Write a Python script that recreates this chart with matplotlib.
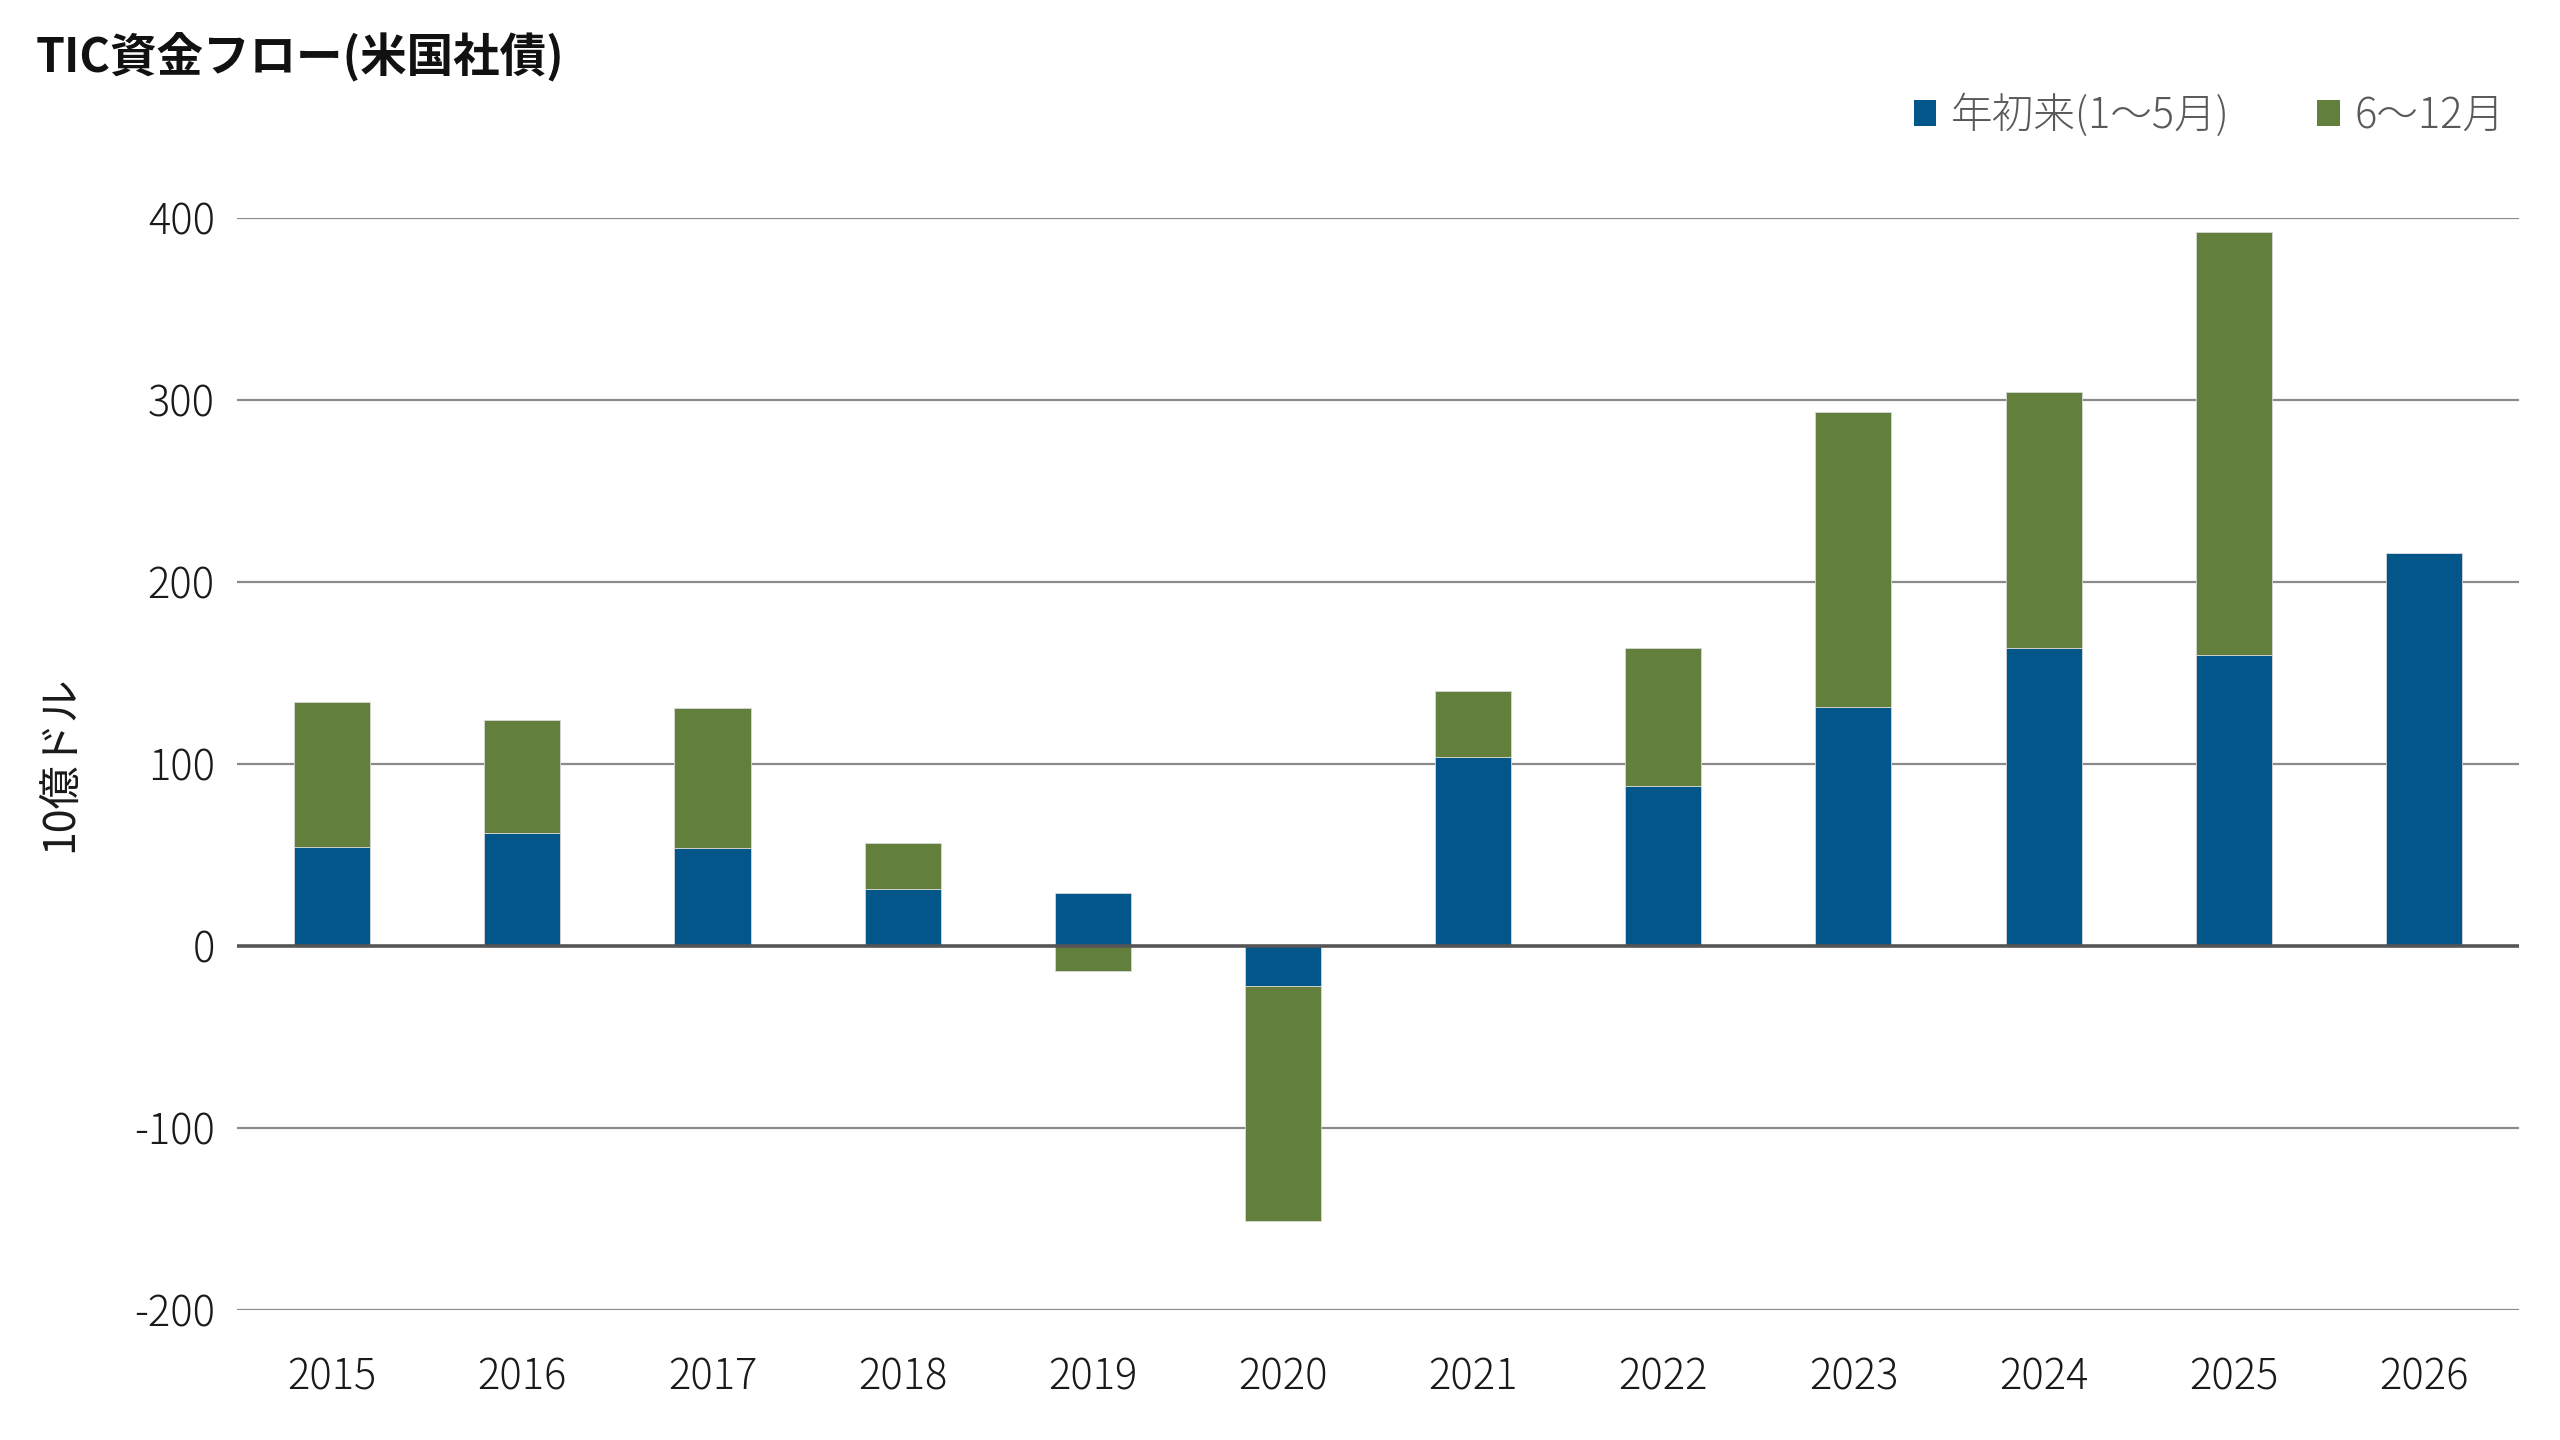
import matplotlib
matplotlib.use("Agg")
import matplotlib.pyplot as plt
from matplotlib.patches import Patch
import numpy as np

years = ["2015", "2016", "2017", "2018", "2019", "2020", "2021", "2022", "2023", "2024", "2025", "2026"]
ytd = [54.6, 62.2, 53.7, 31.4, 29.3, -22.1, 103.7, 88.1, 131.3, 163.9, 159.7, 216.2]
rest = [79.6, 62.0, 77.3, 25.3, -13.6, -128.9, 36.4, 75.5, 161.9, 140.4, 232.6, 0.0]
series_names = ["年初来(1〜5月)", "6〜12月"]
yticks = [-200, -100, 0, 100, 200, 300, 400]
title = "TIC資金フロー(米国社債)"
ylabel = "10億ドル"

BLUE = "#02568A"
GREEN = "#62803C"

plt.rcParams['font.family'] = ['Noto Sans CJK JP', 'DejaVu Sans']

fig = plt.figure(figsize=(25.6, 14.4), dpi=100)
ax = fig.add_axes([0.0926, 0.0903, 0.8914, 0.7583])

x = np.arange(len(years))
ytd_a = np.array(ytd)
rest_a = np.array(rest)
bottom_rest = np.where(rest_a >= 0, np.maximum(ytd_a, 0), np.minimum(ytd_a, 0))

w = 0.4
ax.bar(x, ytd_a, width=w, color=BLUE, edgecolor="#d8d8d8", linewidth=0.6, zorder=3)
ax.bar(x, rest_a, width=w, bottom=bottom_rest, color=GREEN, edgecolor="#d8d8d8", linewidth=0.6, zorder=3)

ax.set_xlim(-0.5, len(years) - 0.5)
ax.set_ylim(-200, 400)
ax.set_yticks(yticks)
ax.set_yticklabels([str(v) for v in yticks])
ax.set_xticks(x)
ax.set_xticklabels(years)

for v in yticks:
    if v == 0:
        continue
    ax.axhline(v, color="#8a8a8a", linewidth=1.6, zorder=1)
ax.axhline(0, color="#555555", linewidth=2.6, zorder=4)

for s in ax.spines.values():
    s.set_visible(False)

ax.tick_params(axis="both", length=0, labelsize=30, colors="#1a1a1a")
ax.tick_params(axis="x", pad=33)
ax.tick_params(axis="y", pad=16)
for lab in ax.get_xticklabels() + ax.get_yticklabels():
    lab.set_fontweight("light")

fig.text(60 / 2560, 1 - 764 / 1440, ylabel, rotation=90, ha="center", va="center",
         fontsize=31, color="#1a1a1a", fontweight="normal")

fig.text(36 / 2560, 1 - 58 / 1440, title, ha="left", va="center",
         fontsize=33.5, fontweight="bold", color="#111111")

handles = [Patch(facecolor=BLUE, edgecolor="none"), Patch(facecolor=GREEN, edgecolor="none")]
leg = fig.legend(handles, series_names, loc="center right",
                 bbox_to_anchor=(2505 / 2560, 1 - 116 / 1440), ncol=2, frameon=False,
                 fontsize=30, handlelength=0.55, handleheight=0.55, handletextpad=0.35,
                 columnspacing=2.1, borderaxespad=0, borderpad=0)
for t in leg.get_texts():
    t.set_color("#595959")
    t.set_fontweight("light")

fig.savefig("out.png", dpi=100, facecolor="white")
